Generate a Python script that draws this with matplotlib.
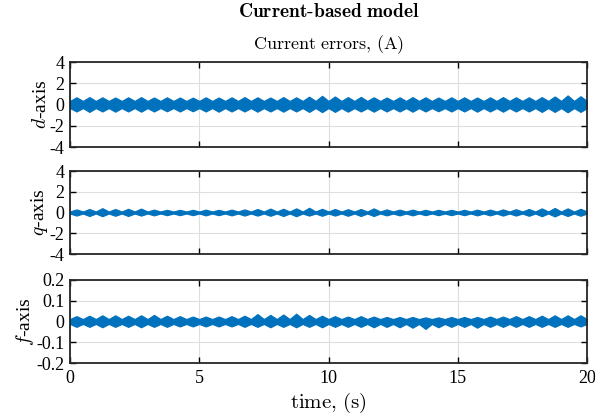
import numpy as np
import matplotlib
matplotlib.use("Agg")
import matplotlib.pyplot as plt

# ------------------------------------------------------------
# Envelope of the current error signals.
# Each signal beats with a 0.5 s period: a lobe every 0.5 s,
# a narrow waist half way between lobes.
# ------------------------------------------------------------

lobe_t = np.arange(0.25, 20.0, 0.5)          # lobe centres (s)
waist_t = np.arange(0.0, 20.01, 0.5)         # waists between lobes (s)

d_up = [0.68, 0.70, 0.68, 0.66, 0.68, 0.70, 0.66, 0.68, 0.66, 0.65,
        0.68, 0.66, 0.68, 0.70, 0.68, 0.66, 0.70, 0.68, 0.74, 0.82,
        0.76, 0.70, 0.72, 0.68, 0.66, 0.68, 0.70, 0.68, 0.66, 0.68,
        0.68, 0.66, 0.68, 0.70, 0.68, 0.68, 0.70, 0.76, 0.86, 0.78]
d_lo = [-0.66, -0.70, -0.66, -0.68, -0.66, -0.68, -0.66, -0.64, -0.66, -0.64,
        -0.66, -0.68, -0.66, -0.66, -0.68, -0.66, -0.68, -0.66, -0.70, -0.72,
        -0.70, -0.68, -0.66, -0.68, -0.66, -0.66, -0.68, -0.66, -0.64, -0.66,
        -0.66, -0.68, -0.66, -0.68, -0.66, -0.66, -0.70, -0.70, -0.74, -0.70]
d_waist = 0.34

q_up = [0.30, 0.34, 0.42, 0.34, 0.36, 0.38, 0.28, 0.26, 0.26, 0.26,
        0.28, 0.26, 0.28, 0.30, 0.34, 0.38, 0.36, 0.40, 0.46, 0.36,
        0.34, 0.32, 0.34, 0.40, 0.30, 0.28, 0.28, 0.26, 0.26, 0.26,
        0.26, 0.28, 0.28, 0.30, 0.32, 0.34, 0.40, 0.44, 0.40, 0.36]
q_lo = [-0.30, -0.34, -0.36, -0.32, -0.34, -0.30, -0.28, -0.26, -0.26, -0.26,
        -0.28, -0.26, -0.28, -0.30, -0.30, -0.32, -0.34, -0.36, -0.30, -0.32,
        -0.30, -0.32, -0.34, -0.34, -0.28, -0.28, -0.28, -0.26, -0.26, -0.26,
        -0.26, -0.28, -0.28, -0.30, -0.30, -0.32, -0.36, -0.38, -0.34, -0.32]
q_waist = 0.10

f_up = [0.026, 0.028, 0.030, 0.030, 0.028, 0.030, 0.032, 0.028, 0.026, 0.024,
        0.024, 0.024, 0.026, 0.028, 0.036, 0.032, 0.034, 0.038, 0.032, 0.028,
        0.026, 0.024, 0.026, 0.024, 0.022, 0.022, 0.022, 0.020, 0.020, 0.022,
        0.022, 0.022, 0.024, 0.024, 0.026, 0.026, 0.028, 0.030, 0.030, 0.030]
f_lo = [-0.026, -0.026, -0.028, -0.026, -0.026, -0.028, -0.026, -0.026, -0.024, -0.024,
        -0.024, -0.024, -0.024, -0.026, -0.026, -0.028, -0.026, -0.028, -0.026, -0.028,
        -0.026, -0.026, -0.026, -0.028, -0.026, -0.028, -0.030, -0.036, -0.028, -0.026,
        -0.026, -0.030, -0.026, -0.026, -0.026, -0.026, -0.026, -0.026, -0.026, -0.024]
f_waist = 0.012

PANELS = [
    ("$d$-axis", d_up, d_lo, d_waist, [-4, -2, 0, 2, 4], ["-4", "-2", "0", "2", "4"]),
    ("$q$-axis", q_up, q_lo, q_waist, [-4, -2, 0, 2, 4], ["-4", "-2", "0", "2", "4"]),
    ("$f$-axis", f_up, f_lo, f_waist, [-0.2, -0.1, 0, 0.1, 0.2],
     ["-0.2", "-0.1", "0", "0.1", "0.2"]),
]

X_TICKS = [0, 5, 10, 15, 20]
LINE_COLOR = "#0072BD"

plt.rcParams["font.family"] = ["Liberation Serif", "DejaVu Serif"]
plt.rcParams["mathtext.fontset"] = "cm"
plt.rcParams["axes.unicode_minus"] = False


def envelope(up, lo, waist):
    """Interleave waists and lobe peaks into one upper and one lower curve."""
    t = np.empty(len(waist_t) + len(lobe_t))
    t[0::2] = waist_t
    t[1::2] = lobe_t
    upper = np.full(len(t), waist)
    lower = np.full(len(t), -waist)
    upper[1::2] = up
    lower[1::2] = lo
    return t, upper, lower


fig = plt.figure(figsize=(5.95, 4.19), dpi=100)

left, width = 70 / 595, 517 / 595
boxes = [(62, 147), (171, 254), (280, 363)]

for k, (label, up, lo, waist, yt, ytl) in enumerate(PANELS):
    top, bot = boxes[k]
    ax = fig.add_axes([left, 1 - bot / 419, width, (bot - top) / 419])

    t, upper, lower = envelope(up, lo, waist)
    ax.fill_between(t, lower, upper, color=LINE_COLOR, linewidth=0.8,
                    edgecolor=LINE_COLOR)

    ax.set_xlim(0, 20)
    ax.set_ylim(yt[0], yt[-1])
    ax.set_xticks(X_TICKS)
    ax.set_yticks(yt)
    ax.set_yticklabels(ytl)
    ax.grid(True, color="#dedede", linewidth=0.8)
    ax.set_axisbelow(True)
    ax.tick_params(direction="in", top=True, right=True, length=4,
                   width=1.0, labelsize=13, pad=5)
    ax.tick_params(axis="y", pad=4)
    for s in ax.spines.values():
        s.set_linewidth(1.3)
        s.set_color("#262626")
    ax.set_ylabel(label, fontsize=14, labelpad=0)

    if k < 2:
        ax.set_xticklabels([])
    else:
        ax.set_xticklabels([str(v) for v in X_TICKS])
        ax.set_xlabel(r"$\mathrm{time{,}\ (s)}$", fontsize=15, labelpad=3)

    if k == 0:
        ax.set_title(r"$\mathrm{Current\ errors{,}\ (A)}$", fontsize=13, pad=9)

fig.text(left + width / 2, 1 - 12 / 419, r"$\mathbf{Current\text{-}based\ model}$",
         ha="center", va="center", fontsize=14)

fig.savefig("out.png", dpi=100)
